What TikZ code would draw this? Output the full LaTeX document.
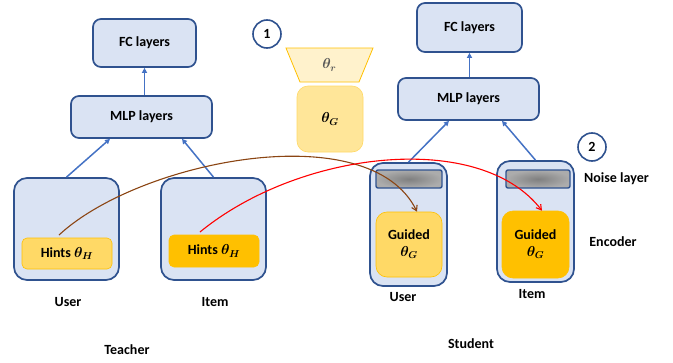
\documentclass[tikz,border=0pt]{standalone}
\usepackage{fontspec}
\setmainfont{Carlito}
\usepackage{amsmath}
\usetikzlibrary{arrows.meta,calc,shapes.geometric}
\definecolor{boxfill}{HTML}{DAE3F3}
\definecolor{boxline}{HTML}{2F528F}
\definecolor{arrblue}{HTML}{4472C4}
\definecolor{lightgold}{HTML}{FFD966}
\definecolor{gold}{HTML}{FFC000}
\definecolor{palegold}{HTML}{FFE699}
\definecolor{cream}{HTML}{FFF2CC}
\definecolor{brownarr}{HTML}{8B4513}
\newcommand{\thb}[1]{{\boldmath$\theta_{#1}$}}
\tikzset{
  txt/.style={font=\bfseries\boldmath\fontsize{14}{16}\selectfont},
  lbl/.style={txt, inner sep=0pt},
  layerbox/.style={txt, draw=boxline, line width=1.7pt, fill=boxfill, rounded corners=8pt, inner sep=0pt},
  encbox/.style={draw=boxline, line width=1.7pt, fill=boxfill, rounded corners=13pt, inner sep=0pt},
  hintbox/.style={txt, draw=gold, line width=0.6pt, rounded corners=5pt, inner sep=0pt},
  guidebox/.style={txt, draw=gold, line width=0.6pt, rounded corners=11pt, inner sep=0pt, align=center},
  noisebox/.style={draw=boxline, line width=1.4pt, rounded corners=2pt, inner color=gray!100, outer color=gray!65, inner sep=0pt, minimum width=66pt, minimum height=18pt},
  numcirc/.style={txt, circle, draw=boxline, line width=1.6pt, fill=white, minimum size=28pt, inner sep=0pt},
  barr/.style={draw=arrblue, line width=1.5pt, -{Triangle[length=5pt,width=5pt]}},
}
\begin{document}
\begin{tikzpicture}[x=1pt,y=-1pt]
\useasboundingbox (0,0) rectangle (673,362);
% ---------- Teacher ----------
\node[layerbox, minimum width=103pt, minimum height=48pt] (tfc) at (144.5,43) {FC layers};
\node[layerbox, minimum width=141pt, minimum height=42pt] (tmlp) at (141.5,117) {MLP layers};
\node[encbox, minimum width=105pt, minimum height=102pt] (tu) at (66.5,229) {};
\node[encbox, minimum width=105pt, minimum height=102pt] (ti) at (213.5,229) {};
\node[hintbox, fill=lightgold, minimum width=90pt, minimum height=31pt] (th1) at (67,253.5) {Hints \thb{H}};
\node[hintbox, fill=gold, minimum width=90pt, minimum height=32pt] (th2) at (214,251) {Hints \thb{H}};
\node[lbl] (tul) at (68,302) {User};
\node[lbl] (til) at (215,302) {Item};
\node[lbl] (tea) at (127,350) {Teacher};
\draw[barr] (tu.north) -- ($(tmlp.south)+(-31.5,0)$);
\draw[barr] (ti.north) -- ($(tmlp.south)+(40.5,0)$);
\draw[barr] (tfc.south |- tmlp.north) -- (tfc.south);
% ---------- Middle ----------
\node[numcirc] (c1) at (267,34) {1};
\draw[draw=gold, line width=0.8pt, fill=cream] (286,48) -- (373,48) -- (359,82) -- (300,82) -- cycle;
\node[txt, text=black!65] (tr) at (329.5,65) {\thb{r}};
\node[guidebox, fill=palegold, draw=lightgold, minimum width=66pt, minimum height=66pt] (tg) at (330,119) {\thb{G}};
% ---------- Student ----------
\node[layerbox, minimum width=105pt, minimum height=49pt] (sfc) at (469.5,27.5) {FC layers};
\node[layerbox, minimum width=141pt, minimum height=42pt] (smlp) at (468.5,99) {MLP layers};
\node[encbox, minimum width=77pt, minimum height=123pt] (su) at (408.5,224.5) {};
\node[encbox, minimum width=77pt, minimum height=121pt] (si) at (535.5,221.5) {};
\node[noisebox] (sn1) at (409,179) {};
\node[noisebox, minimum width=64pt] (sn2) at (538,179) {};
\node[guidebox, fill=lightgold, minimum width=66pt, minimum height=65pt] (sg1) at (409,244.5) {Guided\\[1pt]\thb{G}};
\node[guidebox, fill=gold, minimum width=67pt, minimum height=67pt] (sg2) at (535.5,244.5) {Guided\\[1pt]\thb{G}};
\node[lbl] (sul) at (403,297) {User};
\node[lbl] (sil) at (532,294) {Item};
\node[lbl] (stu) at (471,344) {Student};
\node[numcirc] (c2) at (592,147) {2};
\node[lbl, anchor=west] (noise) at (584,179) {Noise layer};
\node[lbl] (enc) at (613,242) {Encoder};
\draw[barr] (su.north) -- ($(smlp.south)+(-19.5,0)$);
\draw[barr] (si.north) -- ($(smlp.south)+(33.5,0)$);
\draw[barr] (sfc.south |- smlp.north) -- (sfc.south);
% ---------- Transfer curves ----------
\coordinate (b0) at (59,235);
\coordinate (r0) at (200,232);
\coordinate (bE) at ($(sg1.north)+(8,0)$);
\coordinate (rE) at ($(sg2.north)+(6.5,0)$);
\draw[brownarr, line width=1.1pt, -{Straight Barb[length=5pt,width=6pt]}] (b0) .. controls (140,160) and (370,115) .. (bE);
\draw[red, line width=1.1pt, -{Straight Barb[length=5pt,width=6pt]}] (r0) .. controls (300,150) and (480,130) .. (rE);
\end{tikzpicture}
\end{document}
